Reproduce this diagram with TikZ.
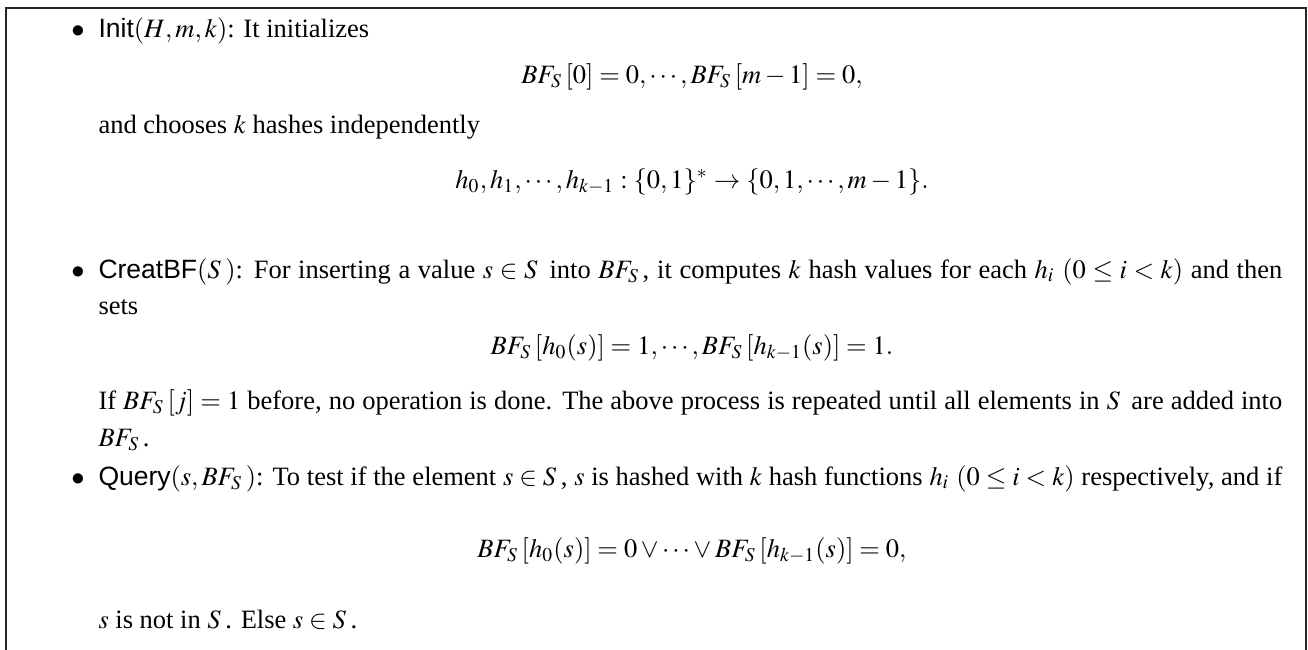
\documentclass[tikz,border=0pt]{standalone}
\usepackage{mathptmx}
\usepackage[no-math]{fontspec}
\setmainfont{Liberation Serif}
\setsansfont{Liberation Sans}
\newlength\linew
\setlength\linew{438pt}
% italic S with the wide side bearing of the original typesetting
\newcommand\Sset{S\mkern3mu}
\newcommand\BFset{BF_{\Sset}}
\tikzset{
  txt/.style={inner sep=0pt, anchor=base west, font=\fontsize{9.8}{12}\selectfont},
  disp/.style={inner sep=0pt, anchor=base, font=\fontsize{9.8}{12}\selectfont},
  bul/.style={inner sep=0pt, anchor=base, font=\fontsize{9.8}{12}\selectfont},
  frameline/.style={line width=0.6pt, draw=black!85}
}
\begin{document}
\begin{tikzpicture}[x=0.37pt,y=-0.37pt]
\useasboundingbox (0,0) rectangle (1308,650);
% frame: open at the bottom
\coordinate (bl) at (6,650);
\coordinate (tl) at (6,8);
\coordinate (tr) at (1306,8);
\coordinate (br) at (1306,650);
\draw[frameline] (bl) -- (tl) -- (tr) -- (br);

% Init
\node[bul] (b1) at (78,37) {$\bullet$};
\node[txt] (init) at (98,37) {\textsf{Init}$(H,m,k)$: It initializes};
\node[disp] (d1) at (692,83) {$\BFset[0]=0,\cdots,\BFset[m-1]=0,$};
\node[txt] (choose) at (98,133) {and chooses $k$ hashes independently};
\node[disp] (d2) at (692,188) {$h_0,h_1,\cdots,h_{k-1}:\{0,1\}^*\rightarrow\{0,1,\cdots,m-1\}.$};

% CreatBF
\node[bul] (b2) at (78,278) {$\bullet$};
\node[txt] (creat) at (98,278) {\makebox[\linew][s]{\textsf{CreatBF}$(\Sset)$: For inserting a value $s\in \Sset$ into $\BFset$, it computes $k$ hash values for each $h_i$ $(0\le i<k)$ and then}};
\node[txt] (sets) at (98,314) {sets};
\node[disp] (d3) at (692,354) {$\BFset[h_0(s)]=1,\cdots,\BFset[h_{k-1}(s)]=1.$};
\node[txt] (ifl) at (98,409) {\makebox[\linew][s]{If $\BFset[j]=1$ before, no operation is done. The above process is repeated until all elements in $\Sset$ are added into}};
\node[txt] (bfs) at (98,446) {$\BFset$.};

% Query
\node[bul] (b3) at (78,485) {$\bullet$};
\node[txt] (query) at (98,485) {\makebox[\linew][s]{\textsf{Query}$(s,\BFset)$: To test if the element $s\in \Sset$, $s$ is hashed with $k$ hash functions $h_i$ $(0\le i<k)$ respectively, and if}};
\node[disp] (d4) at (692,557) {$\BFset[h_0(s)]=0\vee\cdots\vee \BFset[h_{k-1}(s)]=0,$};
\node[txt] (notin) at (98,628) {$s$ is not in $\Sset$. Else $s\in \Sset$.};
\end{tikzpicture}
\end{document}
